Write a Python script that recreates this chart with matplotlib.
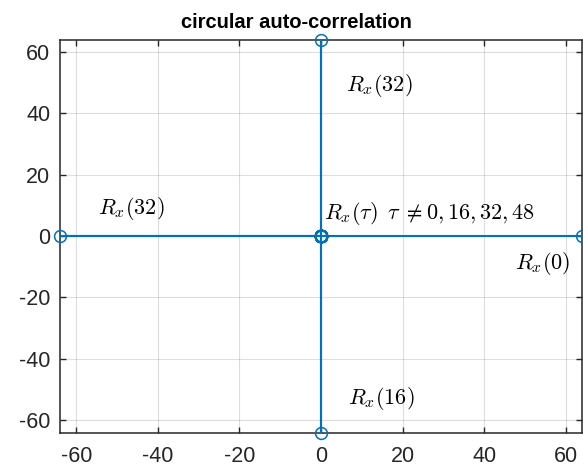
import matplotlib
matplotlib.use("Agg")
import matplotlib.pyplot as plt

plt.rcParams['font.family'] = ['Liberation Sans', 'DejaVu Sans']
plt.rcParams['mathtext.fontset'] = 'cm'

# circular auto-correlation R_x(tau), tau = 0..63 (real and imaginary parts)
re_vals = [64, 0, 0, 0, 0, 0, 0, 0, 0, 0, 0, 0, 0, 0, 0, 0,
           0, 0, 0, 0, 0, 0, 0, 0, 0, 0, 0, 0, 0, 0, 0, 0,
           -64, 0, 0, 0, 0, 0, 0, 0, 0, 0, 0, 0, 0, 0, 0, 0,
           0, 0, 0, 0, 0, 0, 0, 0, 0, 0, 0, 0, 0, 0, 0, 0]
im_vals = [0, 0, 0, 0, 0, 0, 0, 0, 0, 0, 0, 0, 0, 0, 0, 0,
           -64, 0, 0, 0, 0, 0, 0, 0, 0, 0, 0, 0, 0, 0, 0, 0,
           0, 0, 0, 0, 0, 0, 0, 0, 0, 0, 0, 0, 0, 0, 0, 0,
           64, 0, 0, 0, 0, 0, 0, 0, 0, 0, 0, 0, 0, 0, 0, 0]

ticks = [-60, -40, -20, 0, 20, 40, 60]
tick_labels = ['-60', '-40', '-20', '0', '20', '40', '60']

annotations = [
    (6.1, 49.0, r'$R_x(32)$'),
    (-54.6, 9.0, r'$R_x(32)$'),
    (0.8, 7.3, r'$R_x(\tau)\ \,\tau\;\neq 0, 16, 32, 48$'),
    (47.5, -8.8, r'$R_x(0)$'),
    (6.6, -52.8, r'$R_x(16)$'),
]

fig = plt.figure(figsize=(5.83, 4.68), dpi=100)
ax = fig.add_axes([60/583, 35.5/468, 522/583, 393/468])

blue = '#0072BD'
ax.plot(re_vals, im_vals, color=blue, linewidth=1.5, marker='o',
        markersize=8.5, markerfacecolor='none', markeredgewidth=1.1,
        clip_on=False, zorder=3)

for x, y, s in annotations:
    ax.text(x, y, s, fontsize=16, ha='left', va='center', color='black')

ax.set_xlim(-64, 64)
ax.set_ylim(-64, 64)
ax.set_xticks(ticks)
ax.set_xticklabels(tick_labels)
ax.set_yticks(ticks)
ax.set_yticklabels(tick_labels)

gray = '#262626'
ax.tick_params(direction='in', length=4.5, width=1, colors=gray,
               labelsize=15.5, top=True, right=True)
ax.tick_params(axis='x', pad=10)
ax.tick_params(axis='y', pad=7)
for sp in ax.spines.values():
    sp.set_color(gray)
    sp.set_linewidth(1.1)
ax.grid(True, color=gray, alpha=0.15, linewidth=0.8)
ax.set_axisbelow(True)

fig.text(296.5/583, 1 - 28/468, 'circular auto-correlation', fontsize=14.5,
         fontweight='bold', color='black', ha='center', va='baseline')

fig.savefig('out.png', dpi=100)
